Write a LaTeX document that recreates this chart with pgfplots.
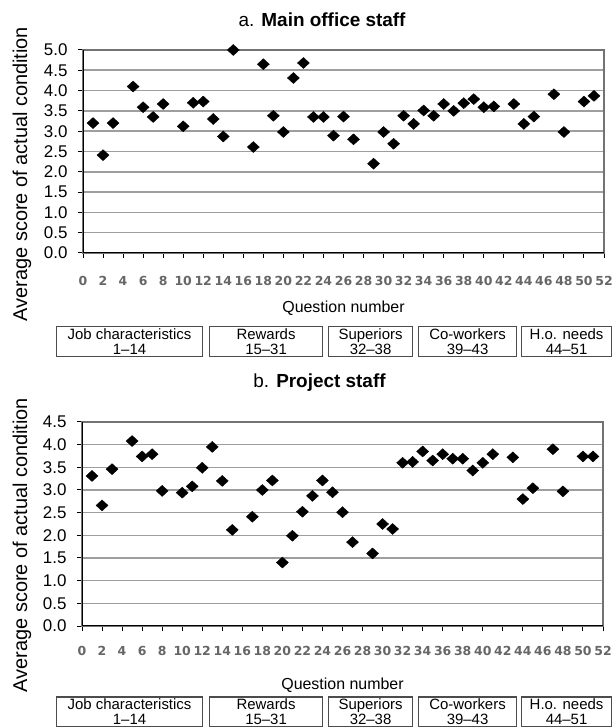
\documentclass[border=0pt]{standalone}
\usepackage{fontspec}
\setmainfont{Liberation Sans}
\newfontfamily\tickfont{DejaVu Sans}
\usepackage{pgfplots}
\pgfplotsset{compat=1.18}

\pgfplotstableread{
q score
1 3.20
2 2.41
3 3.20
5 4.10
6 3.59
7 3.35
8 3.67
10 3.12
11 3.70
12 3.73
13 3.30
14 2.87
15 5.00
17 2.61
18 4.65
19 3.38
20 2.98
21 4.31
22 4.68
23 3.35
24 3.35
25 2.89
26 3.36
27 2.80
29 2.20
30 2.98
31 2.69
32 3.38
33 3.18
34 3.51
35 3.38
36 3.67
37 3.50
38 3.69
39 3.79
40 3.59
41 3.61
43 3.67
44 3.18
45 3.36
47 3.91
48 2.98
50 3.73
51 3.87
}\mainoffice

\pgfplotstableread{
q score
1 3.31
2 2.66
3 3.46
5 4.08
6 3.74
7 3.79
8 2.98
10 2.94
11 3.08
12 3.49
13 3.95
14 3.20
15 2.12
17 2.41
18 3.00
19 3.21
20 1.40
21 1.99
22 2.52
23 2.87
24 3.21
25 2.95
26 2.51
27 1.85
29 1.60
30 2.25
31 2.14
32 3.60
33 3.62
34 3.85
35 3.65
36 3.79
37 3.69
38 3.69
39 3.43
40 3.60
41 3.79
43 3.72
44 2.80
45 3.04
47 3.90
48 2.97
50 3.74
51 3.74
}\project

\pgfplotsset{
  staff/.style={
    scale only axis,
    width=521bp,
    xmin=0, xmax=52, ymin=0,
    xtick={0,2,...,52},
    tick align=outside,
    xtick pos=bottom, ytick pos=left,
    major tick length=5bp,
    tick style={black, line width=1bp},
    axis line style={black!55, line width=1.2bp},
    ymajorgrids,
    major grid style={black!38, line width=1.6bp},
    /pgf/number format/assume math mode=true,
    yticklabel style={font=\fontsize{17}{17}\selectfont, xshift=-7bp,
      /pgf/number format/.cd, fixed, fixed zerofill, precision=1},
    xticklabel style={font=\tickfont\bfseries\fontsize{12.5}{12.5}\selectfont,
      text=black!60},
    xlabel={Question number},
    xlabel style={font=\fontsize{16}{16}\selectfont, anchor=center},
    ylabel={Average score of actual condition},
    ylabel style={font=\fontsize{20}{20}\selectfont, anchor=center},
    title style={font=\fontsize{19}{19}\selectfont, anchor=base},
  },
  dots/.style={only marks, mark=diamond*, mark size=5.5bp, black,
    mark options={xscale=1.45}},
}

% category boxes under each panel; #1 = top edge
\newcommand\catboxes[1]{%
  \begin{scope}[every node/.style={draw=black!70, line width=1.1bp,
      anchor=north west, minimum height=30bp, inner sep=0pt, align=center,
      font=\fontsize{15}{15}\selectfont}]
    \node[minimum width=146bp] at (56bp,#1) {Job characteristics\\1--14};
    \node[minimum width=113bp] at (209bp,#1) {Rewards\\15--31};
    \node[minimum width=84bp] at (328bp,#1) {Superiors\\32--38};
    \node[minimum width=98bp] at (418bp,#1) {Co-workers\\39--43};
    \node[minimum width=90bp] at (521bp,#1) {H.o. needs\\44--51};
  \end{scope}}

\begin{document}
\begin{tikzpicture}
\useasboundingbox (0,0) rectangle (613bp,727bp);

\begin{axis}[staff,
  at={(83bp,474bp)}, anchor=south west,
  height=203bp, ymax=5, ytick={0,0.5,...,5},
  title={a. \textbf{Main office staff}},
  title style={at={(axis description cs:0.459,1.088)}},
  xticklabel style={yshift=-15bp},
  xlabel style={at={(axis description cs:0.5,-0.272)}},
  ylabel style={at={(axis description cs:-0.117,0.389)}},
]
\addplot[dots] table[x=q, y=score] {\mainoffice};
\draw[black, line width=1.3bp] (rel axis cs:0,1) -- (rel axis cs:0,0) -- (rel axis cs:1,0);
\end{axis}
\catboxes{401bp}

\begin{axis}[staff,
  at={(82bp,101bp)}, anchor=south west,
  height=204bp, ymax=4.5, ytick={0,0.5,...,4.5},
  title={b. \textbf{Project staff}},
  title style={at={(axis description cs:0.456,1.138)}},
  xticklabel style={yshift=-12bp},
  xlabel style={at={(axis description cs:0.5,-0.29)}},
  ylabel style={at={(axis description cs:-0.115,0.397)}},
]
\addplot[dots] table[x=q, y=score] {\project};
\draw[black, line width=1.3bp] (rel axis cs:0,1) -- (rel axis cs:0,0) -- (rel axis cs:1,0);
\end{axis}
\catboxes{30.5bp}
\end{tikzpicture}
\end{document}
